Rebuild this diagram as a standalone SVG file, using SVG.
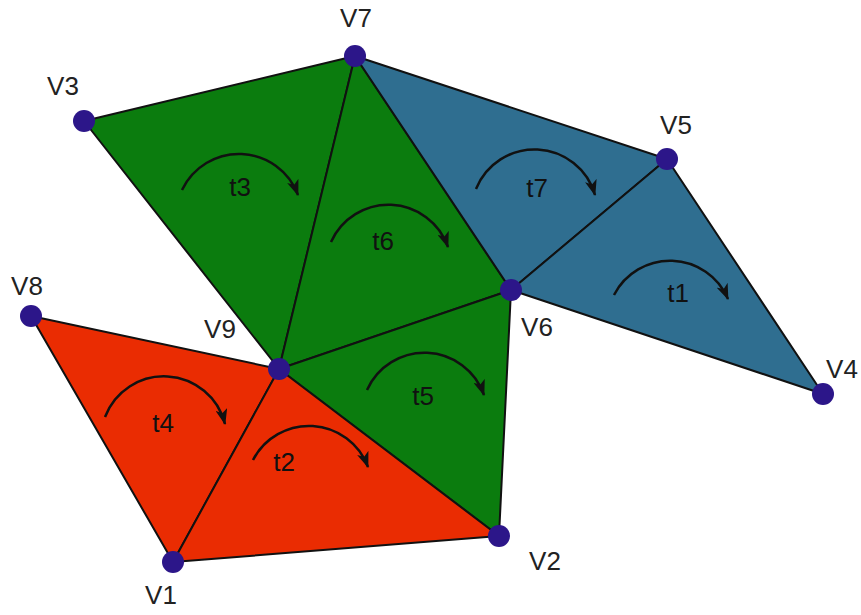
<svg xmlns="http://www.w3.org/2000/svg" width="861" height="615" viewBox="0 0 861 615">
<defs>
<style>
.green{fill:#0b7c0e;stroke:#111;stroke-width:2;stroke-linejoin:round}
.blue{fill:#2f6e90;stroke:#111;stroke-width:2;stroke-linejoin:round}
.red{fill:#ea2c02;stroke:#111;stroke-width:2;stroke-linejoin:round}
.v{fill:#2c1689}
.lbl{font-family:"Liberation Sans",Arial,sans-serif;font-size:26px;fill:#222;text-anchor:middle}
.tl{font-family:"Liberation Sans",Arial,sans-serif;font-size:26px;fill:#111;text-anchor:middle}
.arc{fill:none;stroke:#111;stroke-width:2.5;marker-end:url(#ah)}
</style>
<marker id="ah" viewBox="0 0 16 12" refX="15" refY="6" markerWidth="16" markerHeight="12" markerUnits="userSpaceOnUse" orient="auto">
<path d="M0,0 L16,6 L0,12 L4,6 Z" fill="#111"/>
</marker>
</defs>
<g id="triangles">
<polygon id="t3" class="green" points="84,121 355,56 279,369"/>
<polygon id="t6" class="green" points="355,56 511,290 279,369"/>
<polygon id="t5" class="green" points="279,369 511,290 499,536"/>
<polygon id="t7" class="blue" points="355,56 667,159 511,290"/>
<polygon id="t1" class="blue" points="667,159 823,394 511,290"/>
<polygon id="t4" class="red" points="31,316 279,369 173,562"/>
<polygon id="t2" class="red" points="279,369 499,536 173,562"/>
</g>
<g id="connectors">
<path class="arc" d="M182,190 A63,63 0 0 1 298,195"/>
<path class="arc" d="M331,242 A63,63 0 0 1 448,247"/>
<path class="arc" d="M476,189 A63,63 0 0 1 595,195"/>
<path class="arc" d="M614,295 A63,63 0 0 1 728,299"/>
<path class="arc" d="M367,390 A63,63 0 0 1 484,395"/>
<path class="arc" d="M105,417 A63,63 0 0 1 225,424"/>
<path class="arc" d="M253,460 A63,63 0 0 1 368,467"/>
</g>
<g id="tlabels">
<text class="tl" x="240" y="196">t3</text>
<text class="tl" x="383" y="250">t6</text>
<text class="tl" x="537" y="197">t7</text>
<text class="tl" x="678" y="302">t1</text>
<text class="tl" x="423" y="405">t5</text>
<text class="tl" x="163" y="432">t4</text>
<text class="tl" x="284" y="471">t2</text>
</g>
<g id="V7"><circle class="v" cx="355" cy="56" r="11"/><text class="lbl" x="356" y="27">V7</text></g>
<g id="V3"><circle class="v" cx="84" cy="121" r="11"/><text class="lbl" x="63" y="95">V3</text></g>
<g id="V5"><circle class="v" cx="667" cy="159" r="11"/><text class="lbl" x="676" y="134">V5</text></g>
<g id="V6"><circle class="v" cx="511" cy="290" r="11"/><text class="lbl" x="537" y="336">V6</text></g>
<g id="V8"><circle class="v" cx="31" cy="316" r="11"/><text class="lbl" x="27" y="295">V8</text></g>
<g id="V9"><circle class="v" cx="279" cy="369" r="11"/><text class="lbl" x="220" y="338">V9</text></g>
<g id="V4"><circle class="v" cx="823" cy="394" r="11"/><text class="lbl" x="842" y="378">V4</text></g>
<g id="V2"><circle class="v" cx="499" cy="536" r="11"/><text class="lbl" x="545" y="570">V2</text></g>
<g id="V1"><circle class="v" cx="173" cy="562" r="11"/><text class="lbl" x="161" y="604">V1</text></g>
</svg>
